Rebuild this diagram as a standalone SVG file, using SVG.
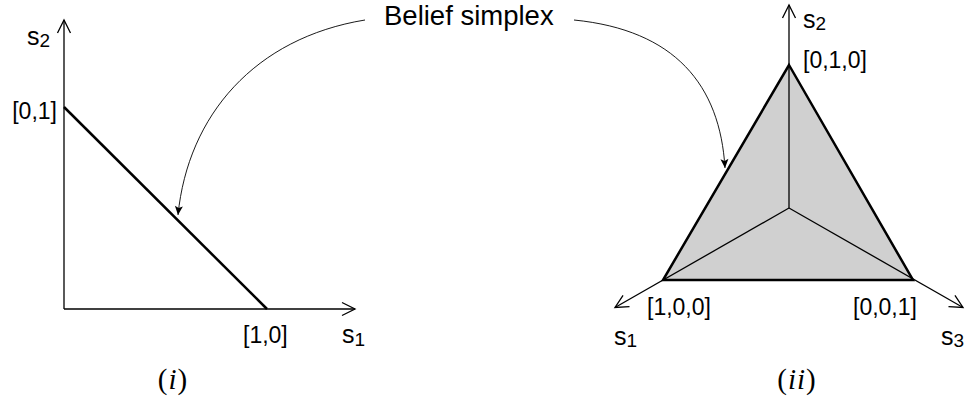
<svg xmlns="http://www.w3.org/2000/svg" width="965" height="403" viewBox="0 0 965 403">
  <style>
    .axis { stroke: #000; stroke-width: 1.3; fill: none; }
    .thick { stroke: #000; stroke-width: 2.5; fill: none; stroke-linejoin: miter; }
    .thin { stroke: #000; stroke-width: 1.2; fill: none; }
    .curve { stroke: #000; stroke-width: 0.9; fill: none; }
    .lbl { font-family: "Liberation Sans", Arial, sans-serif; font-size: 23px; fill: #000; }
    .s { font-family: "Liberation Sans", Arial, sans-serif; font-size: 25px; fill: #000; }
    .sub { font-size: 19px; }
    .title { font-family: "Liberation Sans", Arial, sans-serif; font-size: 27.5px; fill: #000; }
    .cap { font-family: "Liberation Serif", "Times New Roman", serif; font-size: 29px; fill: #000; letter-spacing: 1px; }
  </style>
  <defs>
    <marker id="open" markerUnits="userSpaceOnUse" viewBox="-15 -8 16 16" refX="0" refY="0" markerWidth="16" markerHeight="16" orient="auto" overflow="visible">
      <path d="M-13,-6.5 L0,0 L-13,6.5" fill="none" stroke="#000" stroke-width="1.3"/>
    </marker>
    <marker id="stealth" markerUnits="userSpaceOnUse" viewBox="-10 -5 11 10" refX="0" refY="0" markerWidth="11" markerHeight="10" orient="auto" overflow="visible">
      <path d="M-9,-4 L0,0 L-9,4 L-7,0 Z" fill="#000"/>
    </marker>
  </defs>

  <g id="plot-i">
    <line class="axis" x1="64" y1="309" x2="64" y2="20" marker-end="url(#open)"/>
    <line class="axis" x1="64" y1="309" x2="355" y2="309" marker-end="url(#open)"/>
    <line class="thick" x1="64" y1="107" x2="267" y2="309"/>
    <text class="s" x="27" y="45">s<tspan class="sub" dy="2">2</tspan></text>
    <text class="s" x="342" y="343">s<tspan class="sub" dy="3">1</tspan></text>
    <text class="lbl" x="57" y="119" text-anchor="end">[0,1]</text>
    <text class="lbl" x="243" y="343">[1,0]</text>
    <text class="cap" x="173" y="389" text-anchor="middle">(<tspan font-style="italic">i</tspan>)</text>
  </g>

  <g id="plot-ii">
    <polygon points="789,65 913,280 663,280" fill="#d0d0d0" stroke="none"/>
    <line class="axis" x1="789" y1="208" x2="789" y2="5" marker-end="url(#open)"/>
    <line class="axis" x1="789" y1="208" x2="615" y2="307.5" marker-end="url(#open)"/>
    <line class="axis" x1="789" y1="208" x2="963" y2="307.5" marker-end="url(#open)"/>
    <polygon class="thick" points="789,65 913,280 663,280"/>
    <text class="s" x="803" y="28">s<tspan class="sub" dy="2">2</tspan></text>
    <text class="s" x="614" y="345">s<tspan class="sub" dy="2">1</tspan></text>
    <text class="s" x="941" y="345">s<tspan class="sub" dy="2">3</tspan></text>
    <text class="lbl" x="803" y="68">[0,1,0]</text>
    <text class="lbl" x="647" y="315">[1,0,0]</text>
    <text class="lbl" x="853" y="315">[0,0,1]</text>
    <text class="cap" x="797" y="389" text-anchor="middle">(<tspan font-style="italic">ii</tspan>)</text>
  </g>

  <g id="belief-label">
    <text class="title" x="384" y="25">Belief simplex</text>
  </g>

  <g id="connectors">
    <path class="curve" d="M365,20 C255,38 188,115 178,215" marker-end="url(#stealth)"/>
    <path class="curve" d="M574,20 C675,30 720,85 725,168" marker-end="url(#stealth)"/>
  </g>
</svg>
